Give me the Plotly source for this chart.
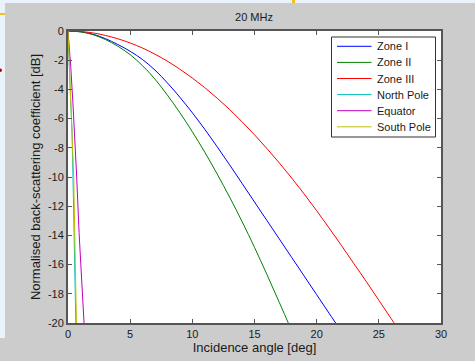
import plotly.graph_objects as go

# ---- data ----
zone1_x = [0, 1, 2, 3, 4, 5, 6, 7, 8, 9, 10, 11, 12, 13, 14, 15, 16, 17, 18, 19, 20, 21, 22]
zone1_y = [0, -0.05, -0.22, -0.52, -0.92, -1.39, -1.96, -2.68, -3.56, -4.54, -5.60, -6.73, -7.93,
           -9.17, -10.44, -11.71, -12.98, -14.25, -15.52, -16.79, -18.06, -19.33, -20.6]

zone2_x = [0, 1, 2, 3, 4, 5, 6, 7, 8, 9, 10, 11, 12, 13, 14, 15, 16, 17, 18]
zone2_y = [0, -0.06, -0.25, -0.58, -1.04, -1.62, -2.38, -3.3, -4.4, -5.6, -6.9, -8.3, -9.8,
           -11.38, -13.05, -14.82, -16.68, -18.6, -20.55]

zone3_x = [0, 1, 2, 3, 4, 5, 6, 7, 8, 9, 10, 11, 12, 13, 14, 15, 16, 17, 18, 19, 20, 21, 22, 23, 24, 25, 26, 27]
zone3_y = [0, -0.03, -0.13, -0.3, -0.53, -0.82, -1.17, -1.59, -2.07, -2.62, -3.22, -3.88, -4.6,
           -5.38, -6.22, -7.11, -8.05, -9.04, -10.08, -11.17, -12.31, -13.49, -14.7, -15.94,
           -17.17, -18.44, -19.71, -20.98]

npole_x = [0, 0.04, 0.08, 0.2, 0.33, 0.42, 0.49, 0.56, 0.63]
npole_y = [0, -1.0, -2.4, -4.5, -7.0, -10.0, -13.8, -17.0, -20.0]

equator_x = [0, 0.1, 0.22, 0.4, 0.54, 0.7, 0.89, 1.08, 1.29]
equator_y = [0, -1.0, -2.44, -5.0, -7.0, -10.0, -13.8, -17.0, -20.0]

spole_x = [0, 0.05, 0.1, 0.22, 0.36, 0.46, 0.54, 0.61, 0.68]
spole_y = [0, -1.0, -2.4, -4.5, -7.0, -10.0, -13.8, -17.0, -20.0]

series_names = ["Zone I", "Zone II", "Zone III", "North Pole", "Equator", "South Pole"]
series_colors = ["#0000ff", "#008000", "#ff0000", "#00bfbf", "#bf00bf", "#bfbf00"]
series_smooth = [True, True, True, False, False, False]

x_tickvals = [0, 5, 10, 15, 20, 25, 30]
x_ticktext = ["0", "5", "10", "15", "20", "25", "30"]
y_tickvals = [0, -2, -4, -6, -8, -10, -12, -14, -16, -18, -20]
y_ticktext = ["0", "-2", "-4", "-6", "-8", "-10", "-12", "-14", "-16", "-18", "-20"]

xs = [zone1_x, zone2_x, zone3_x, npole_x, equator_x, spole_x]
ys = [zone1_y, zone2_y, zone3_y, npole_y, equator_y, spole_y]

FONT = "Liberation Sans, Arial, sans-serif"
GRAY = "#cccccc"
LIGHT = "#eaf2fb"
AX = "#555555"
TXT = "#1a1a1a"

fig = go.Figure()
for x, y, n, c, s in zip(xs, ys, series_names, series_colors, series_smooth):
    line = dict(color=c, width=1)
    if s:
        line.update(shape="spline", smoothing=1.0)
    fig.add_trace(go.Scatter(x=x, y=y, mode="lines", name=n, line=line, showlegend=False,
                             hoverinfo="skip"))

W, H = 475, 361
L, R, T, B = 68, 34, 31, 38
pw, ph = W - L - R, H - T - B

def px(xpix):
    return (xpix - L) / pw

def py(ypix):
    return (H - B - ypix) / ph

shapes = [
    # window strips (light blue) outside the figure area
    dict(type="rect", xref="paper", yref="paper", x0=px(-2), x1=px(W + 2), y0=py(3), y1=py(-2),
         fillcolor=LIGHT, line=dict(width=0), layer="above"),
    dict(type="rect", xref="paper", yref="paper", x0=px(-2), x1=px(5), y0=py(338), y1=py(-2),
         fillcolor=LIGHT, line=dict(width=0), layer="above"),
    # small window artefacts
    dict(type="rect", xref="paper", yref="paper", x0=px(0), x1=px(5), y0=py(15), y1=py(13),
         fillcolor="#f0c020", line=dict(width=0), layer="above"),
    dict(type="rect", xref="paper", yref="paper", x0=px(292), x1=px(295), y0=py(3), y1=py(0),
         fillcolor="#f0c020", line=dict(width=0), layer="above"),
    dict(type="circle", xref="paper", yref="paper", x0=px(-1.5), x1=px(2), y0=py(72), y1=py(68.5),
         fillcolor="#c00000", line=dict(width=0), layer="above"),
    # legend box
    dict(type="rect", xref="paper", yref="paper", x0=px(331.5), x1=px(435.5), y0=py(137), y1=py(37),
         fillcolor="white", line=dict(color="#333333", width=1), layer="above"),
]
annotations = []
row0, rowstep = 46.3, 16.1
for i, (n, c) in enumerate(zip(series_names, series_colors)):
    yc = row0 + i * rowstep
    shapes.append(dict(type="line", xref="paper", yref="paper", x0=px(337), x1=px(371.5),
                       y0=py(yc), y1=py(yc), line=dict(color=c, width=1), layer="above"))
    annotations.append(dict(text=n, xref="paper", yref="paper", x=px(374.5), y=py(yc),
                            xanchor="left", yanchor="middle", showarrow=False,
                            font=dict(size=11, color=TXT, family=FONT)))

fig.update_layout(
    width=W, height=H,
    margin=dict(l=L, r=R, t=T, b=B, pad=0),
    paper_bgcolor=GRAY, plot_bgcolor="white",
    font=dict(family=FONT, size=11, color=TXT),
    title=dict(text="20 MHz", x=px(254), xanchor="center", y=1 - 17 / H, yanchor="middle",
               xref="paper", yref="container", font=dict(size=11), automargin=False),
    showlegend=False,
    hovermode=False,
    shapes=shapes,
    annotations=annotations,
)
fig.update_xaxes(range=[0, 30], tickvals=x_tickvals, ticktext=x_ticktext, automargin=False,
                 showgrid=False, zeroline=False, showline=True, linecolor=AX, linewidth=2,
                 mirror="ticks", ticks="inside", ticklen=4, tickcolor=AX, tickwidth=1,
                 title=dict(text="Incidence angle [deg]", standoff=3))
fig.update_yaxes(range=[-20, 0], tickvals=y_tickvals, ticktext=y_ticktext, automargin=False,
                 showgrid=False, zeroline=False, showline=True, linecolor=AX, linewidth=2,
                 mirror="ticks", ticks="inside", ticklen=4, tickcolor=AX, tickwidth=1,
                 title=dict(text="Normalised back-scattering coefficient [dB]", standoff=4))

fig.write_html("out.html", config={"displayModeBar": False, "staticPlot": True},
               post_script="document.body.style.margin='0px';")
